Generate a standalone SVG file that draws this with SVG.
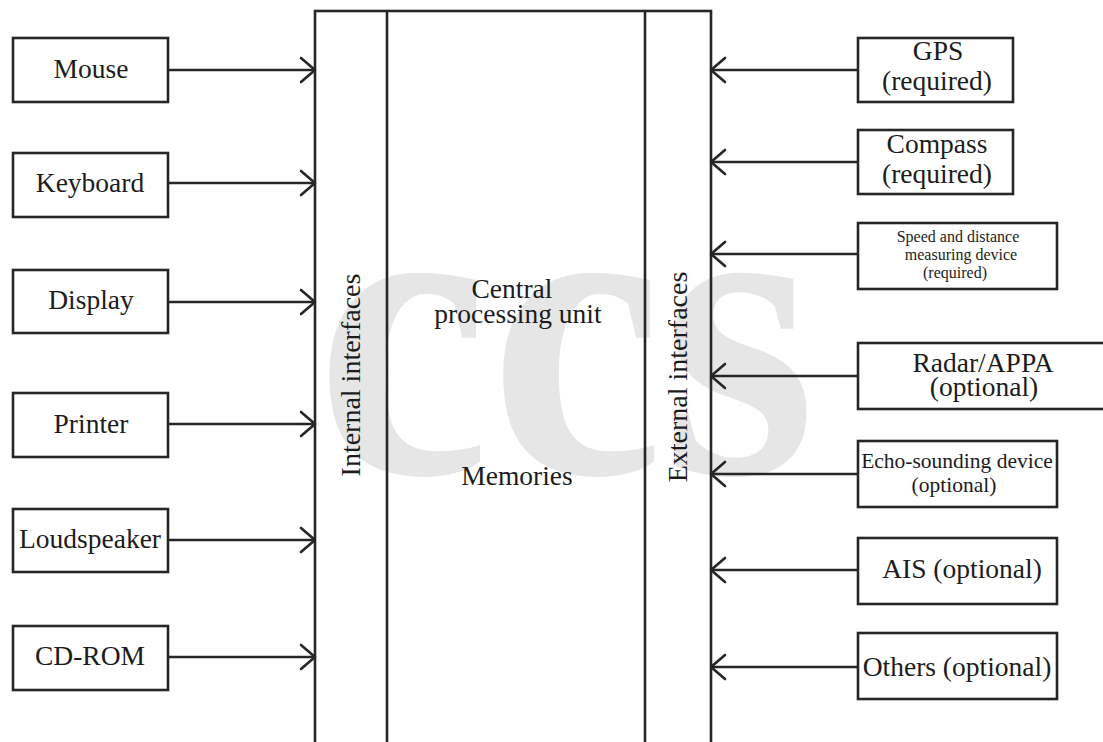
<svg xmlns="http://www.w3.org/2000/svg" width="1103" height="742" viewBox="0 0 1103 742">
<style>
.box{fill:none;stroke:#262626;stroke-width:2.6}
.t{font-family:"Liberation Serif","Times New Roman",serif;font-size:27.5px;fill:#1c1c1c;text-anchor:middle}
.big{font-size:28px}
.sm{font-size:16px}
.md{font-size:21.5px}
.conn{stroke:#262626;stroke-width:2.6;fill:none;marker-end:url(#arr)}
.wm{font-family:"Liberation Serif","Times New Roman",serif;font-weight:bold;font-size:425px;fill:#e6e6e6}
</style>
<defs>
<marker id="arr" markerUnits="userSpaceOnUse" viewBox="0 0 18 28" refX="16" refY="14" markerWidth="18" markerHeight="28" orient="auto">
<path d="M2,2 L16,14 L2,26" fill="none" stroke="#262626" stroke-width="2.6" stroke-linecap="round" stroke-linejoin="round"/>
</marker>
</defs>
<rect width="1103" height="742" fill="#fff"/>
<text class="wm" x="316" y="473" textLength="500" lengthAdjust="spacingAndGlyphs">ccs</text>

<g id="main">
<rect class="box" x="315" y="11" width="396" height="745"/>
<line class="box" x1="387" y1="11" x2="387" y2="745"/>
<line class="box" x1="645" y1="11" x2="645" y2="745"/>
<text class="t big" transform="translate(360,375) rotate(-90)">Internal interfaces</text>
<text class="t big" transform="translate(687,377) rotate(-90)">External interfaces</text>
<text class="t" x="512" y="298">Central</text>
<text class="t" x="518" y="323">processing unit</text>
<text class="t" x="517" y="485">Memories</text>
</g>

<g id="mouse"><rect class="box" x="13" y="38" width="155" height="64"/><text class="t" x="91" y="78">Mouse</text></g>
<g id="keyboard"><rect class="box" x="13" y="153" width="155" height="64"/><text class="t" x="90" y="192">Keyboard</text></g>
<g id="display"><rect class="box" x="13" y="270" width="155" height="63"/><text class="t" x="91" y="309">Display</text></g>
<g id="printer"><rect class="box" x="13" y="393" width="155" height="64"/><text class="t" x="91" y="433">Printer</text></g>
<g id="loudspeaker"><rect class="box" x="13" y="509" width="155" height="63"/><text class="t" x="90" y="548">Loudspeaker</text></g>
<g id="cdrom"><rect class="box" x="13" y="626" width="155" height="64"/><text class="t" x="90" y="665">CD-ROM</text></g>

<g id="gps"><rect class="box" x="858" y="38" width="155" height="64"/><text class="t" x="938" y="60">GPS</text><text class="t" x="937" y="90">(required)</text></g>
<g id="compass"><rect class="box" x="858" y="130" width="155" height="64"/><text class="t" x="937" y="153">Compass</text><text class="t" x="937" y="183">(required)</text></g>
<g id="speed"><rect class="box" x="858" y="223" width="199" height="66"/><text class="t sm" x="958" y="242">Speed and distance</text><text class="t sm" x="961" y="260">measuring device</text><text class="t sm" x="955" y="278">(required)</text></g>
<g id="radar"><rect class="box" x="858" y="343" width="248" height="66"/><text class="t" x="983" y="372">Radar/APPA</text><text class="t" x="984" y="396">(optional)</text></g>
<g id="echo"><rect class="box" x="858" y="441" width="199" height="66"/><text class="t md" x="957" y="468">Echo-sounding device</text><text class="t md" x="954" y="492">(optional)</text></g>
<g id="ais"><rect class="box" x="858" y="538" width="199" height="66"/><text class="t" x="962" y="578">AIS (optional)</text></g>
<g id="others"><rect class="box" x="858" y="633" width="199" height="66"/><text class="t" x="957" y="676">Others (optional)</text></g>

<g id="connectors">
<line class="conn" x1="168" y1="70" x2="315" y2="70"/>
<line class="conn" x1="168" y1="183" x2="315" y2="183"/>
<line class="conn" x1="168" y1="302" x2="315" y2="302"/>
<line class="conn" x1="168" y1="424" x2="315" y2="424"/>
<line class="conn" x1="168" y1="540" x2="315" y2="540"/>
<line class="conn" x1="168" y1="657" x2="315" y2="657"/>
<line class="conn" x1="858" y1="70" x2="711" y2="70"/>
<line class="conn" x1="858" y1="162" x2="711" y2="162"/>
<line class="conn" x1="858" y1="254" x2="711" y2="254"/>
<line class="conn" x1="858" y1="376" x2="711" y2="376"/>
<line class="conn" x1="858" y1="474" x2="711" y2="474"/>
<line class="conn" x1="858" y1="570" x2="711" y2="570"/>
<line class="conn" x1="858" y1="667" x2="711" y2="667"/>
</g>
</svg>
